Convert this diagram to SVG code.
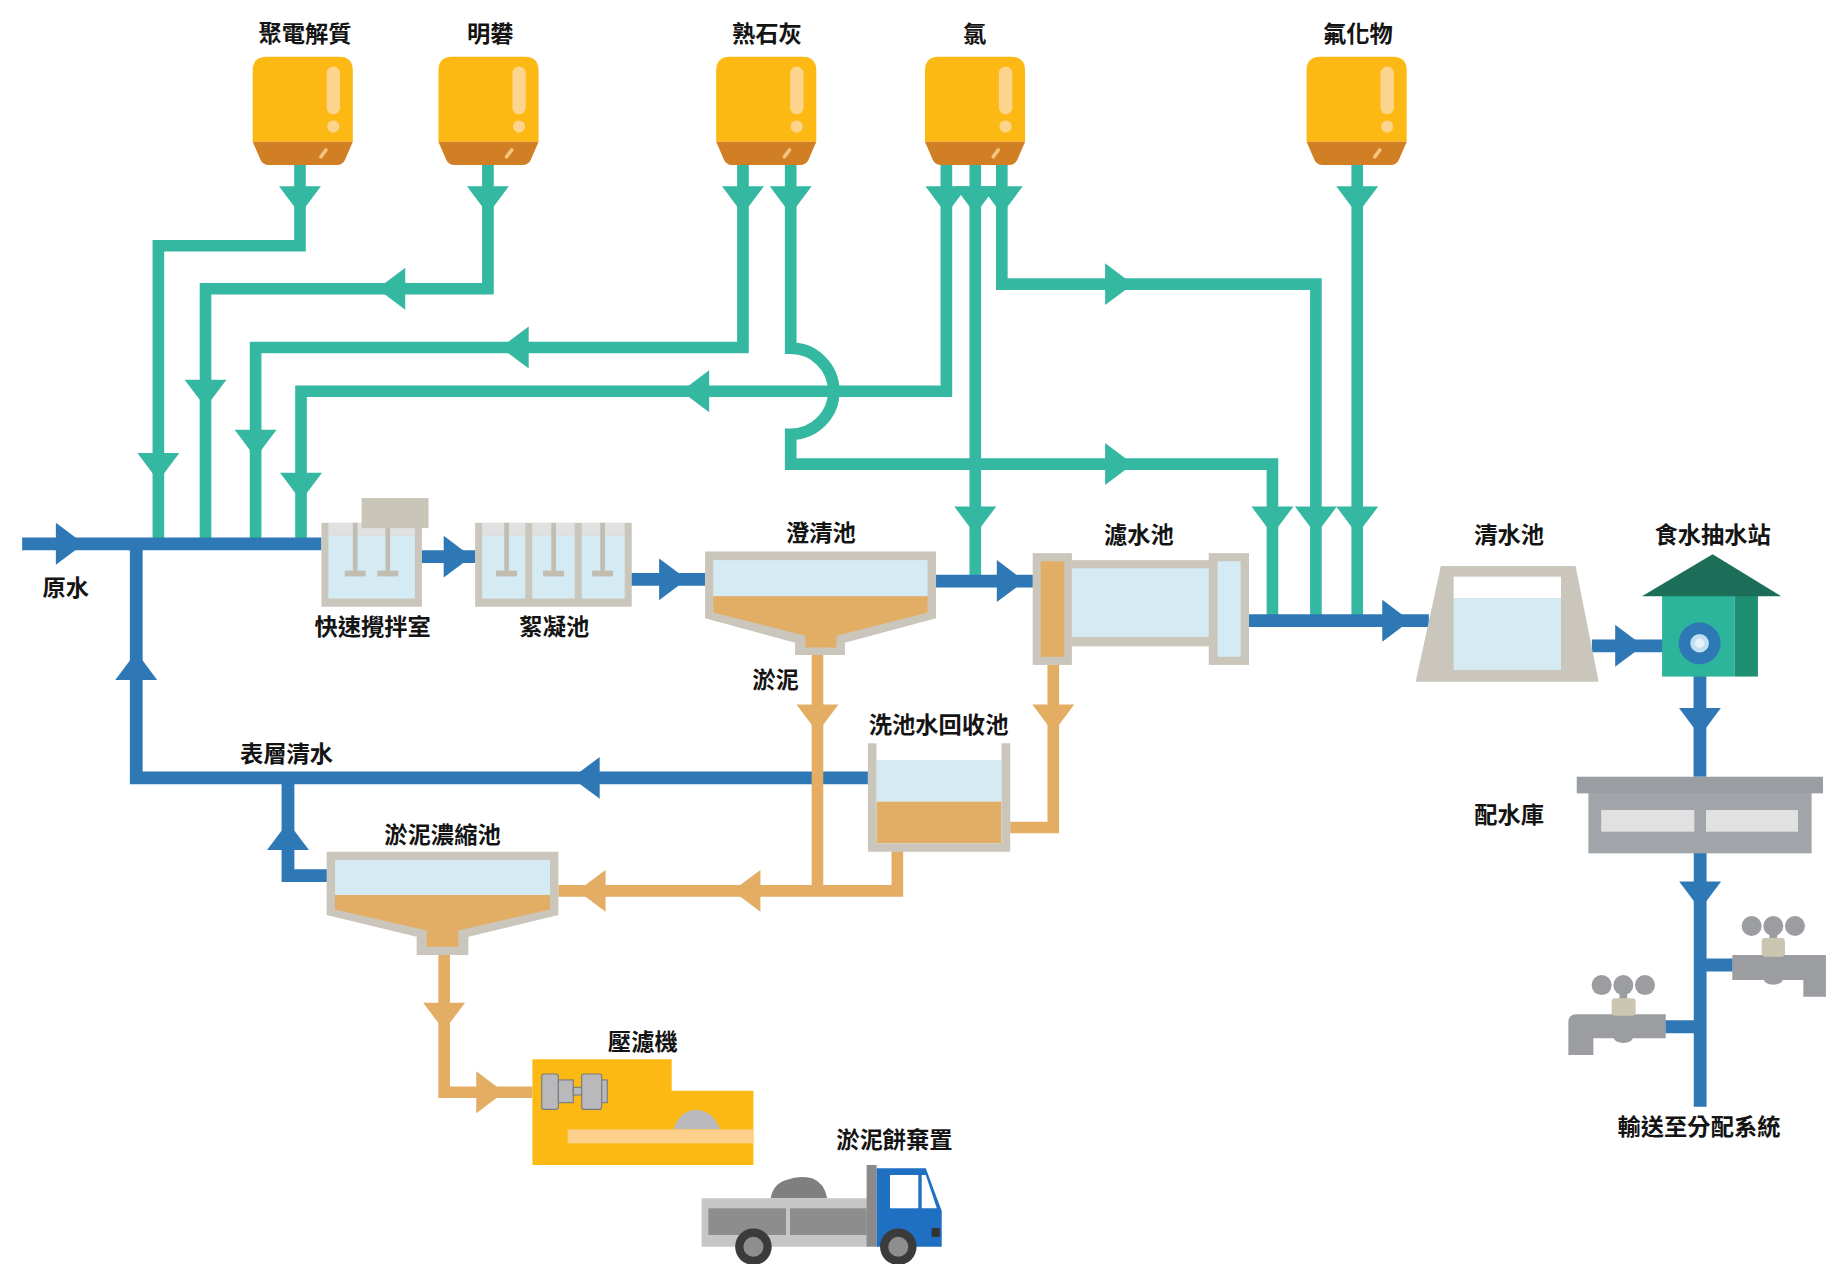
<svg xmlns="http://www.w3.org/2000/svg" xmlns:xlink="http://www.w3.org/1999/xlink" width="1826" height="1264" viewBox="0 0 1826 1264">
<style>
  .teal { fill: none; stroke: #35b8a2; stroke-width: 10; stroke-linejoin: miter; }
  .blue { fill: none; stroke: #2f78b6; stroke-width: 11; stroke-linejoin: miter; }
  .tan  { fill: none; stroke: #e3ad64; stroke-width: 10; stroke-linejoin: miter; }
  .ah-teal { fill: #35b8a2; }
  .ah-blue { fill: #2f78b6; }
  .ah-tan  { fill: #e3ad64; }
  .wall { fill: #cac6bb; }
  .water { fill: #d4ebf4; }
  .empty { fill: #e0e1e0; }
  .sludge { fill: #e2ad64; }
  .shaft { fill: #c1bdb1; }
  .lbl { font-family: "Noto Sans CJK TC", "Noto Sans CJK SC", sans-serif; font-size: 20px; font-weight: 700; fill: #141414; text-anchor: middle; }
</style>
<defs>
  <!-- arrowhead pointing down, base on the origin -->
  <path id="ah" d="M-18,0 H18 L0,24 Z"/>
  <!-- chemical hopper, 86 wide -->
  <g id="hopper">
    <path d="M0,12 Q0,0 12,0 H74 Q86,0 86,12 V73 H0 Z" fill="#fdb913"/>
    <path d="M0,73 H86 L79.5,88 Q77.5,93 72,93 H14 Q8.5,93 6.5,88 Z" fill="#d17f24"/>
    <rect x="63.5" y="8.5" width="11.5" height="41" rx="5.75" fill="#fdd48e"/>
    <circle cx="69.2" cy="60" r="5.2" fill="#fdd48e"/>
    <path d="M63,80 L58.5,86" stroke="#f7c47e" stroke-width="3" stroke-linecap="round"/>
  </g>
</defs>
<rect width="1826" height="1264" fill="#ffffff"/>
<g transform="scale(1.1645)">

<!-- pipes -->
<g id="connectors">
  <!-- chemical dosing lines -->
  <path class="teal" d="M257.6,141 V211 H136 V467"/>
  <path class="teal" d="M419,141 V248 H176.5 V467"/>
  <path class="teal" d="M638,141 V298.4 H219.5 V467"/>
  <path class="teal" d="M679,141 V299 A37,37 0 0 1 679,373 V398.5 H1092.7 V533"/>
  <path class="teal" d="M812.7,141 V336 H258.5 V467"/>
  <path class="teal" d="M837.5,141 V499"/>
  <path class="teal" d="M860.3,141 V244 H1130 V533"/>
  <path class="teal" d="M1165.5,141 V533"/>
  <g class="ah-teal">
    <use xlink:href="#ah" transform="translate(257.6,160)"/>
    <use xlink:href="#ah" transform="translate(419,160)"/>
    <use xlink:href="#ah" transform="translate(638,160)"/>
    <use xlink:href="#ah" transform="translate(679,160)"/>
    <use xlink:href="#ah" transform="translate(812.7,160)"/>
    <use xlink:href="#ah" transform="translate(837.5,160)"/>
    <use xlink:href="#ah" transform="translate(860.3,160)"/>
    <use xlink:href="#ah" transform="translate(1165.5,160)"/>
    <use xlink:href="#ah" transform="translate(136,389)"/>
    <use xlink:href="#ah" transform="translate(176.5,326)"/>
    <use xlink:href="#ah" transform="translate(219.5,369)"/>
    <use xlink:href="#ah" transform="translate(258.5,406)"/>
    <use xlink:href="#ah" transform="translate(348,248) rotate(90)"/>
    <use xlink:href="#ah" transform="translate(454,298.4) rotate(90)"/>
    <use xlink:href="#ah" transform="translate(609,336) rotate(90)"/>
    <use xlink:href="#ah" transform="translate(949,398.5) rotate(-90)"/>
    <use xlink:href="#ah" transform="translate(949,244) rotate(-90)"/>
    <use xlink:href="#ah" transform="translate(837.5,435)"/>
    <use xlink:href="#ah" transform="translate(1092.7,435)"/>
    <use xlink:href="#ah" transform="translate(1130,435)"/>
    <use xlink:href="#ah" transform="translate(1165.5,435)"/>
  </g>

  <!-- water lines -->
  <path class="blue" d="M19,467 H276"/>
  <path class="blue" d="M117,467 V668 H745.3"/>
  <path class="blue" d="M247.3,668 V752 H281"/>
  <path class="blue" d="M362,478 H408"/>
  <path class="blue" d="M542,497.5 H605.5"/>
  <path class="blue" d="M803.8,499 H887"/>
  <path class="blue" d="M1072,533 H1227"/>
  <path class="blue" d="M1367,554.6 H1459"/>
  <path class="blue" d="M1459.8,552 V667"/>
  <path class="blue" d="M1460,732 V950.4"/>
  <path class="blue" d="M1460,828.7 H1488"/>
  <path class="blue" d="M1460,881.7 H1430"/>
  <g class="ah-blue">
    <use xlink:href="#ah" transform="translate(48,467) rotate(-90)"/>
    <use xlink:href="#ah" transform="translate(381,478) rotate(-90)"/>
    <use xlink:href="#ah" transform="translate(566,497.5) rotate(-90)"/>
    <use xlink:href="#ah" transform="translate(856,499) rotate(-90)"/>
    <use xlink:href="#ah" transform="translate(1187,533) rotate(-90)"/>
    <use xlink:href="#ah" transform="translate(1387,554.6) rotate(-90)"/>
    <use xlink:href="#ah" transform="translate(1459.8,608)"/>
    <use xlink:href="#ah" transform="translate(1460,757)"/>
    <use xlink:href="#ah" transform="translate(117,584) rotate(180)"/>
    <use xlink:href="#ah" transform="translate(515,668) rotate(90)"/>
    <use xlink:href="#ah" transform="translate(247.3,730) rotate(180)"/>
  </g>

  <!-- sludge lines -->
  <path class="tan" d="M702,562 V765"/>
  <path class="tan" d="M904.5,571 V710.6 H867.5"/>
  <path class="tan" d="M770.6,731 V765 H479.5"/>
  <path class="tan" d="M381.4,820 V938 H457.2"/>
  <g class="ah-tan">
    <use xlink:href="#ah" transform="translate(702,605)"/>
    <use xlink:href="#ah" transform="translate(904.5,605)"/>
    <use xlink:href="#ah" transform="translate(653,765) rotate(90)"/>
    <use xlink:href="#ah" transform="translate(520,765) rotate(90)"/>
    <use xlink:href="#ah" transform="translate(381.4,861)"/>
    <use xlink:href="#ah" transform="translate(409,938) rotate(-90)"/>
  </g>
</g>

<!-- chemical hoppers -->
<g id="polyelectrolyte">
  <use xlink:href="#hopper" x="217" y="48.7"/>
  <text class="lbl" x="262" y="36">聚電解質</text>
</g>
<g id="alum">
  <use xlink:href="#hopper" x="376.5" y="48.7"/>
  <text class="lbl" x="421" y="36">明礬</text>
</g>
<g id="lime">
  <use xlink:href="#hopper" x="615" y="48.7"/>
  <text class="lbl" x="658.5" y="36">熟石灰</text>
</g>
<g id="chlorine">
  <use xlink:href="#hopper" x="794.3" y="48.7"/>
  <text class="lbl" x="837" y="36">氯</text>
</g>
<g id="fluoride">
  <use xlink:href="#hopper" x="1122" y="48.7"/>
  <text class="lbl" x="1166" y="36">氟化物</text>
</g>

<g id="raw-water">
  <text class="lbl" x="56.5" y="512">原水</text>
</g>

<!-- rapid mixing chamber -->
<g id="rapid-mix">
  <rect class="wall" x="276" y="449" width="86.3" height="72"/>
  <rect class="empty" x="282" y="449" width="74.3" height="11"/>
  <rect class="water" x="282" y="460" width="74.3" height="54"/>
  <rect class="shaft" x="303" y="449" width="4" height="44"/>
  <rect class="shaft" x="331" y="449" width="4" height="44"/>
  <rect class="shaft" x="296" y="490" width="18" height="5"/>
  <rect class="shaft" x="324" y="490" width="18" height="5"/>
  <rect x="310.5" y="427.7" width="57.5" height="25.8" fill="#c9c5b9"/>
  <text class="lbl" x="320" y="545">快速攪拌室</text>
</g>

<!-- flocculation tank -->
<g id="flocculation">
  <rect class="wall" x="408" y="449" width="134.5" height="72"/>
  <rect class="empty" x="414" y="449" width="37" height="11"/>
  <rect class="empty" x="457" y="449" width="36.5" height="11"/>
  <rect class="empty" x="499.5" y="449" width="37" height="11"/>
  <rect class="water" x="414" y="460" width="37" height="54"/>
  <rect class="water" x="457" y="460" width="36.5" height="54"/>
  <rect class="water" x="499.5" y="460" width="37" height="54"/>
  <rect class="shaft" x="433" y="449" width="4" height="44"/>
  <rect class="shaft" x="473.4" y="449" width="4" height="44"/>
  <rect class="shaft" x="515.5" y="449" width="4" height="44"/>
  <rect class="shaft" x="426" y="490" width="18" height="5"/>
  <rect class="shaft" x="466.4" y="490" width="18" height="5"/>
  <rect class="shaft" x="508.5" y="490" width="18" height="5"/>
  <text class="lbl" x="476" y="545">絮凝池</text>
</g>

<!-- clarifier -->
<g id="clarifier">
  <path class="wall" d="M605.5,473.7 H803.8 V531 L725.6,552 V562.5 H682.7 V552 L605.5,531 Z"/>
  <rect class="water" x="612.5" y="481" width="184" height="31"/>
  <path class="sludge" d="M612.5,512 H796.5 V526 L718.4,546 V556 H691.7 V546 L612.5,526 Z"/>
  <text class="lbl" x="705" y="465">澄清池</text>
  <text class="lbl" x="666" y="591">淤泥</text>
</g>

<!-- filter -->
<g id="filter">
  <rect class="wall" x="920.5" y="481" width="118" height="74"/>
  <rect class="water" x="920.5" y="488" width="118" height="59"/>
  <rect class="wall" x="886.8" y="475" width="33.7" height="96"/>
  <rect class="sludge" x="893.7" y="482" width="20.3" height="82"/>
  <rect class="wall" x="1038" y="475" width="34.6" height="96"/>
  <rect class="water" x="1045.6" y="482" width="19.8" height="82"/>
  <text class="lbl" x="978" y="466">濾水池</text>
</g>

<!-- clear water well -->
<g id="clear-well">
  <path class="wall" d="M1237.3,486 H1353 L1372.8,585.4 H1215.7 Z"/>
  <rect x="1248.3" y="495.2" width="92.2" height="18.6" fill="#ffffff"/>
  <rect class="water" x="1248.3" y="513.8" width="92.2" height="61.5"/>
  <text class="lbl" x="1296" y="466">清水池</text>
</g>

<!-- pumping station -->
<g id="pumping-station">
  <rect x="1427.3" y="511" width="62.1" height="70" fill="#2db59c"/>
  <rect x="1489.4" y="511" width="20.2" height="70" fill="#1f8f74"/>
  <path d="M1410,512 L1470.7,476 L1529.7,512 Z" fill="#1c6e58"/>
  <circle cx="1459.5" cy="552.4" r="18" fill="#2f78b6"/>
  <circle cx="1459.5" cy="552.4" r="8" fill="#bfe0ef"/>
  <circle cx="1459.5" cy="552.4" r="4" fill="#e6f3f9"/>
  <text class="lbl" x="1470.7" y="466">食水抽水站</text>
</g>

<!-- service reservoir -->
<g id="service-reservoir">
  <rect x="1364" y="681" width="191.7" height="51.8" fill="#a1a4a8"/>
  <rect x="1354" y="667" width="211.5" height="14.3" fill="#9a9da2"/>
  <rect x="1375" y="695.6" width="80" height="18.6" fill="#e1e1e1"/>
  <rect x="1465" y="695.6" width="79" height="18.6" fill="#e1e1e1"/>
  <text class="lbl" x="1296" y="707">配水庫</text>
</g>

<!-- taps on the distribution main -->
<g id="taps">
  <g fill="#9c9da1">
    <circle cx="1504.2" cy="795.2" r="8.6"/>
    <circle cx="1522.8" cy="795.2" r="8.6"/>
    <circle cx="1541.4" cy="795.2" r="8.6"/>
    <rect x="1519.5" y="795" width="6.6" height="12"/>
    <path d="M1487.6,820 H1568 V856 H1548.6 V841.6 H1487.6 Z"/>
    <ellipse cx="1522.8" cy="841.6" rx="8" ry="4"/>
    <circle cx="1375.4" cy="845.9" r="8.6"/>
    <circle cx="1394" cy="845.9" r="8.6"/>
    <circle cx="1412.6" cy="845.9" r="8.6"/>
    <rect x="1390.7" y="846" width="6.6" height="12"/>
    <path d="M1354,871 H1430.4 V891.6 H1368.3 V906 H1346.8 V878 Q1346.8,871 1354,871 Z"/>
    <ellipse cx="1394" cy="891.6" rx="8" ry="4"/>
  </g>
  <rect x="1512.8" y="805.5" width="20" height="16" rx="3" fill="#cac6b2"/>
  <rect x="1384" y="857.3" width="20.6" height="15" rx="3" fill="#cac6b2"/>
  <text class="lbl" x="1459" y="974.5">輸送至分配系統</text>
</g>

<!-- washwater recovery tank -->
<g id="washwater-tank">
  <rect class="water" x="752.7" y="652.6" width="107.3" height="35.8"/>
  <rect class="sludge" x="752.7" y="688.4" width="107.3" height="35.8"/>
  <path class="wall" d="M745.3,638.3 H752.7 V724.2 H860 V638.3 H867.5 V731.4 H745.3 Z"/>
  <text class="lbl" x="806" y="629.5">洗池水回收池</text>
</g>

<g id="surface-water">
  <text class="lbl" x="246" y="654">表層清水</text>
</g>

<!-- sludge thickener -->
<g id="sludge-thickener">
  <path class="wall" d="M280.5,731.4 H479.5 V785.7 L402.2,804.4 V820 H357.8 V804.4 L280.5,785.7 Z"/>
  <rect class="water" x="287.7" y="738.5" width="184.6" height="30.1"/>
  <path class="sludge" d="M287.7,768.6 H472.3 V781 L393.6,799 V813 H366.4 V799 L287.7,781 Z"/>
  <text class="lbl" x="380" y="724">淤泥濃縮池</text>
</g>

<!-- filter press -->
<g id="filter-press">
  <path d="M457.2,909.7 H576.8 V936.6 H647 V1000.4 H457.2 Z" fill="#fdb913"/>
  <path d="M578.2,969.8 Q584,953.2 598,953.2 Q612,953.2 618.3,969.8 Z" fill="#b9b9bb"/>
  <rect x="487.5" y="969.8" width="159.5" height="12" fill="#fdd08c"/>
  <g fill="#b9b9bc" stroke="#7c7c80" stroke-width="1">
    <rect x="465.2" y="922.3" width="14.3" height="30.3" rx="2"/>
    <rect x="479.5" y="927.4" width="12.8" height="19.5"/>
    <rect x="492.3" y="933.7" width="7.2" height="6.6"/>
    <rect x="499.5" y="922.3" width="17.2" height="30.3" rx="2"/>
    <rect x="516.7" y="927.4" width="4.8" height="19.5"/>
  </g>
  <text class="lbl" x="552" y="901.5">壓濾機</text>
</g>

<!-- sludge cake truck -->
<g id="sludge-disposal">
  <path d="M661.8,1029 Q664,1016 676,1013 Q686,1009 698,1012 Q708,1016 710.4,1029 Z" fill="#7f7f7f"/>
  <rect x="602.5" y="1029" width="143.2" height="41.6" fill="#c6c6c6"/>
  <rect x="608.3" y="1037.6" width="66.7" height="22.9" fill="#8d8d8d"/>
  <rect x="678.4" y="1037.6" width="65.8" height="22.9" fill="#8d8d8d"/>
  <rect x="744.2" y="1000.4" width="8.6" height="70.2" fill="#8a8a8a"/>
  <path d="M752.8,1003.3 H795 L808.7,1040 V1070.6 H752.8 Z" fill="#1f6fc2"/>
  <rect x="764.3" y="1009" width="24.3" height="28.6" fill="#ffffff"/>
  <path d="M791.5,1009 H795 L804.5,1037.6 H791.5 Z" fill="#ffffff"/>
  <rect x="800" y="1054.6" width="7" height="7.5" fill="#333333"/>
  <circle cx="647" cy="1070.6" r="15.7" fill="#3b3b3b"/>
  <circle cx="647" cy="1070.6" r="8.6" fill="#8e8e8e"/>
  <circle cx="771.4" cy="1070.6" r="15.7" fill="#3b3b3b"/>
  <circle cx="771.4" cy="1070.6" r="8.6" fill="#8e8e8e"/>
  <text class="lbl" x="768" y="986">淤泥餅棄置</text>
</g>

</g>
</svg>
